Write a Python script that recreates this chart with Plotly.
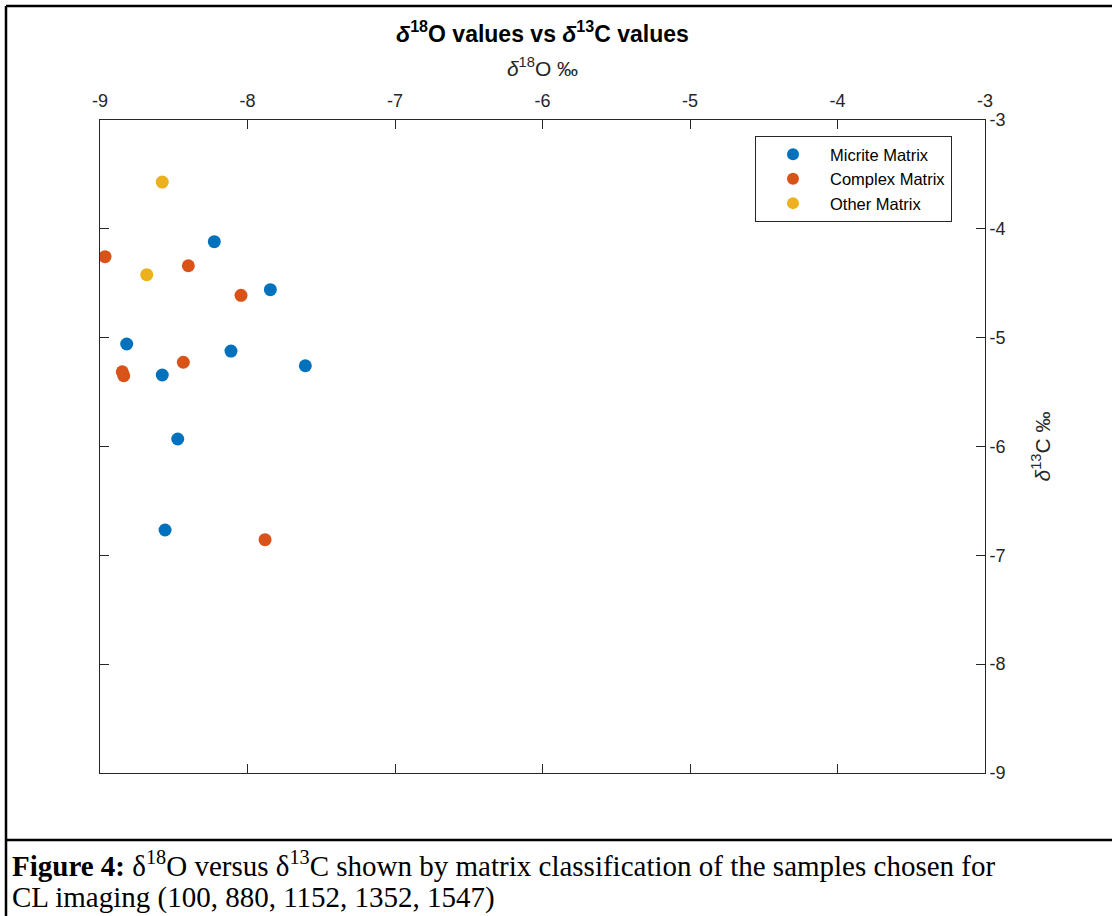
import plotly.graph_objects as go

# Data (delta18O, delta13C)
micrite_o = [-8.225, -7.845, -8.819, -8.112, -7.608, -8.578, -8.473, -8.559]
micrite_c = [-4.118, -4.559, -5.058, -5.123, -5.258, -5.343, -5.931, -6.767]

complex_o = [-8.966, -8.401, -8.044, -8.435, -8.849, -8.839, -7.881]
complex_c = [-4.256, -4.339, -4.611, -5.226, -5.313, -5.350, -6.856]

other_o = [-8.578, -8.683]
other_c = [-3.570, -4.421]

series_names = ["Micrite Matrix", "Complex Matrix", "Other Matrix"]
series_colors = ["#0072BD", "#D95319", "#EDB120"]

x_ticks = [-9, -8, -7, -6, -5, -4, -3]
y_ticks = [-9, -8, -7, -6, -5, -4, -3]

caption_line1 = "<b>Figure 4:</b> δ<sup>18</sup>O versus δ<sup>13</sup>C shown by matrix classification of the samples chosen for"
caption_line2 = "CL imaging (100, 880, 1152, 1352, 1547)"

SANS = "Liberation Sans, Arial, Helvetica, sans-serif"
SERIF = "Liberation Serif, Times New Roman, serif"
AX = "#262626"

fig = go.Figure()
for xs, ys, name, col in zip([micrite_o, complex_o, other_o],
                             [micrite_c, complex_c, other_c],
                             series_names, series_colors):
    fig.add_trace(go.Scatter(x=xs, y=ys, mode="markers", name=name,
                             marker=dict(color=col, size=13, line=dict(width=0))))

fig.update_layout(
    width=1112, height=916,
    margin=dict(l=100, r=127, t=120, b=143),
    paper_bgcolor="white", plot_bgcolor="white",
    font=dict(family=SANS, color=AX),
    title=dict(text="<b><i>δ</i><sup>18</sup>O values vs <i>δ</i><sup>13</sup>C values</b>",
               x=0.5, xref="paper", xanchor="center",
               y=1 - 34 / 916, yref="container", yanchor="middle",
               font=dict(size=23, color="black", family=SANS)),
    xaxis=dict(side="top", range=[-9, -3], tickvals=x_ticks,
               ticktext=[str(v) for v in x_ticks],
               ticks="inside", ticklen=9, tickcolor=AX, tickwidth=1,
               showline=True, linecolor=AX, linewidth=1, mirror="ticks",
               showgrid=False, zeroline=False, ticklabelstandoff=5,
               tickfont=dict(size=18, color=AX),
               title=dict(text="<i>δ</i><sup>18</sup>O ‰", standoff=8,
                          font=dict(size=21, color=AX))),
    yaxis=dict(side="right", range=[-9, -3], tickvals=y_ticks,
               ticktext=[str(v) for v in y_ticks],
               ticks="inside", ticklen=9, tickcolor=AX, tickwidth=1,
               showline=True, linecolor=AX, linewidth=1, mirror="ticks",
               showgrid=False, zeroline=False,
               tickfont=dict(size=18, color=AX),
               title=dict(text="<i>δ</i><sup>13</sup>C ‰", standoff=30,
                          font=dict(size=21, color=AX))),
    legend=dict(x=(755 - 100) / 885, y=(773 - 136) / 653, xanchor="left", yanchor="top",
                bgcolor="white", bordercolor=AX, borderwidth=1,
                font=dict(size=16.5, color="black", family=SANS),
                itemsizing="constant", itemwidth=64, tracegroupgap=0),
    showlegend=True,
)

# Page frame lines (paper coordinates relative to plot area)
def px_x(px):
    return (px - 100) / 885

def px_y(py):
    return (773 - py) / 653

frame = [
    (px_x(6), px_y(6), px_x(6), px_y(916)),
    (px_x(6), px_y(6), px_x(1112), px_y(6)),
    (px_x(6), px_y(840), px_x(1112), px_y(840)),
]
for x0, y0, x1, y1 in frame:
    fig.add_shape(type="line", xref="paper", yref="paper", x0=x0, y0=y0, x1=x1, y1=y1,
                  line=dict(color="black", width=2.5), layer="above")

for text, yc in [(caption_line1, 864), (caption_line2, 897)]:
    fig.add_annotation(
        text=text, xref="paper", yref="paper", x=px_x(10), y=px_y(yc),
        xanchor="left", yanchor="middle", align="left", showarrow=False,
        font=dict(family=SERIF, size=29, color="black"),
    )

fig.write_html("out.html", config={"displayModeBar": False},
               post_script="document.body.style.margin='0px';")
